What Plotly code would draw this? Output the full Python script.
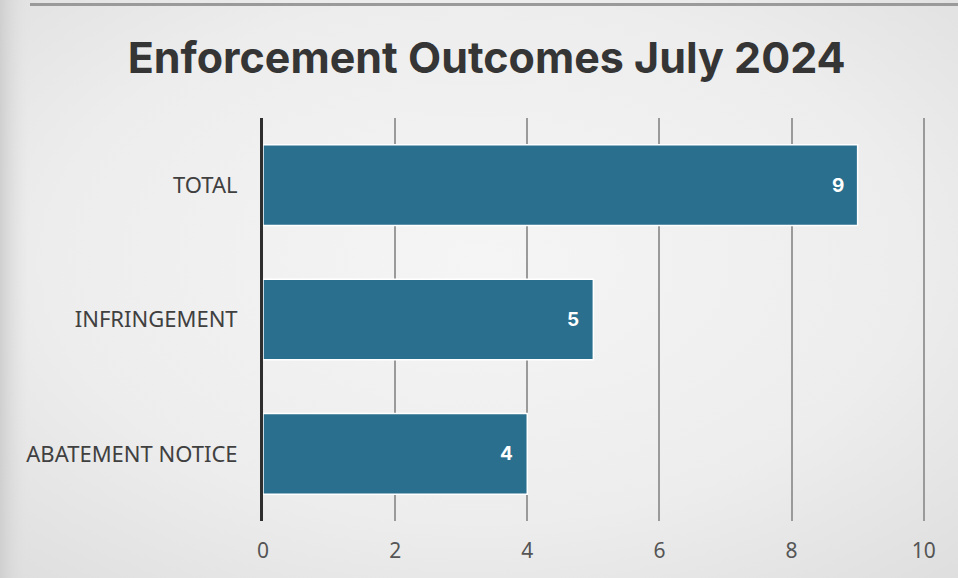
import base64
import plotly.graph_objects as go

# Enforcement outcomes for July 2024
categories = ["ABATEMENT NOTICE", "INFRINGEMENT", "TOTAL"]
counts = [4, 5, 9]
x_ticks = [0, 2, 4, 6, 8, 10]

BAR_COLOR = "#2b6f8e"

# soft grey slide backdrop
svg = """<svg xmlns='http://www.w3.org/2000/svg' width='958' height='578'>
<defs>
<radialGradient id='g' cx='0.5' cy='0.45' r='0.75'>
<stop offset='0' stop-color='#f5f5f5'/>
<stop offset='0.6' stop-color='#ededed'/>
<stop offset='1' stop-color='#dedede'/>
</radialGradient>
<linearGradient id='l' x1='0' y1='0' x2='1' y2='0'>
<stop offset='0' stop-color='#cfcfcf' stop-opacity='1'/>
<stop offset='0.03' stop-color='#e2e2e2' stop-opacity='0'/>
<stop offset='1' stop-color='#e2e2e2' stop-opacity='0'/>
</linearGradient>
</defs>
<rect width='958' height='578' fill='url(#g)'/>
<rect width='958' height='578' fill='url(#l)'/>
<rect x='30' y='3' width='928' height='3' fill='#9a9a9a'/>
</svg>"""
bg_src = "data:image/svg+xml;base64," + base64.b64encode(svg.encode()).decode()

fig = go.Figure(
    go.Bar(
        x=counts,
        y=categories,
        orientation="h",
        marker=dict(color=BAR_COLOR, line=dict(color="#ffffff", width=1.5)),
        width=0.6,
        hoverinfo="skip",
    )
)

# value labels placed just inside the end of each bar
for c, v in zip(categories, counts):
    fig.add_annotation(
        x=v, y=c, text=f"<b>{v}</b>", showarrow=False,
        xanchor="right", xshift=-12,
        font=dict(family="Inter, Open Sans, sans-serif", size=19, color="#ffffff"),
    )

fig.update_layout(
    width=958,
    height=578,
    margin=dict(l=263, r=31, t=118, b=57),
    paper_bgcolor="#e8e8e8",
    plot_bgcolor="rgba(0,0,0,0)",
    showlegend=False,
    images=[dict(source=bg_src, xref="paper", yref="paper", x=-263 / 664, y=1 + 118 / 403,
                 sizex=958 / 664, sizey=578 / 403, sizing="stretch", layer="below",
                 xanchor="left", yanchor="top")],
    title=dict(
        text="<b>Enforcement Outcomes July 2024</b>",
        x=0.508, xanchor="center", y=0.9, yanchor="middle", yref="container",
        font=dict(family="Inter, Open Sans, sans-serif", size=43, color="#353535"),
    ),
    xaxis=dict(
        range=[0, 10.05],
        tickvals=x_ticks,
        showgrid=True,
        gridcolor="#9a9a9a",
        gridwidth=1.5,
        zeroline=False,
        showline=False,
        ticks="",
        tickfont=dict(family="Noto Sans, sans-serif", size=21, color="#555555"),
        ticklabelstandoff=15,
        fixedrange=True,
    ),
    yaxis=dict(
        categoryorder="array",
        categoryarray=categories,
        range=[-0.5, 2.5],
        showline=True,
        linecolor="#2e2e2e",
        linewidth=3,
        showgrid=False,
        ticks="",
        tickfont=dict(family="Noto Sans, sans-serif", size=22, color="#404040"),
        ticklabelstandoff=18,
        fixedrange=True,
    ),
)

fig.write_html("out.html")
